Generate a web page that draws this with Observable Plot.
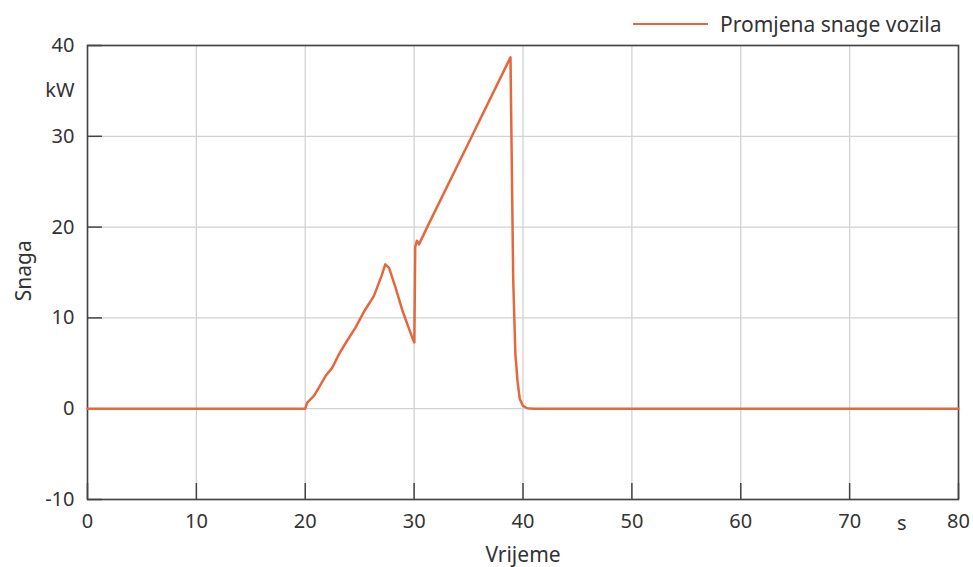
<!DOCTYPE html>
<html>
<head>
<meta charset="utf-8">
<script src="https://cdn.jsdelivr.net/npm/d3@7"></script>
<script src="https://cdn.jsdelivr.net/npm/@observablehq/plot@0.6"></script>
<style>
  html, body { margin: 0; padding: 0; background: #fff; }
  #wrap { position: relative; width: 973px; height: 567px; font-family: "Noto Sans", "Open Sans", sans-serif; }
  #legend { position: absolute; left: 633px; top: 10px; display: flex; align-items: center; color: #333; font-size: 21px; }
  #legend .sw { width: 75px; height: 0; border-top: 2.5px solid #e5683c; margin-right: 12px; }
</style>
</head>
<body>
<div id="wrap">
  <div id="chart"></div>
  <div id="legend"><span class="sw"></span><span id="legendText"></span></div>
</div>
<script>
const seriesName = "Promjena snage vozila";
const xLabel = "Vrijeme";
const yLabel = "Snaga";
const xUnit = "s";
const yUnit = "kW";
const xTicks = [0, 10, 20, 30, 40, 50, 60, 70, 80];
const yTicks = [-10, 0, 10, 20, 30, 40];

const time = [0, 20, 20.18, 20.8, 21.24, 21.86, 22.47, 23.1, 23.8, 24.6, 25.4, 26.3, 27.0, 27.35, 27.7, 28.3, 28.9, 29.5, 29.9, 30.02, 30.1, 30.25, 30.45, 31.2, 35.3, 38.85, 38.95, 39.1, 39.3, 39.5, 39.7, 40.0, 40.4, 41, 80];
const power = [0, 0, 0.66, 1.4, 2.3, 3.6, 4.5, 6.0, 7.4, 8.9, 10.7, 12.4, 14.6, 15.9, 15.5, 13.3, 10.9, 8.9, 7.6, 7.3, 17.8, 18.5, 18.1, 20.0, 30.0, 38.7, 29.0, 14.3, 6.0, 3.0, 1.1, 0.3, 0.05, 0, 0];

const data = time.map((t, i) => ({t, p: power[i]}));
const lineColor = "#e5683c";
const textColor = "#333";

document.getElementById("legendText").textContent = seriesName;

const chart = Plot.plot({
  width: 973,
  height: 567,
  marginLeft: 87,
  marginRight: 15,
  marginTop: 45,
  marginBottom: 68,
  style: {fontFamily: "'Noto Sans', 'Open Sans', sans-serif", fontSize: "20px", color: textColor, background: "#fff"},
  x: {domain: [0, 80], ticks: xTicks},
  y: {domain: [-10, 40], ticks: yTicks},
  marks: [
    Plot.gridX(xTicks, {stroke: "#d2d2d2", strokeOpacity: 1, strokeWidth: 1.3}),
    Plot.gridY(yTicks, {stroke: "#d2d2d2", strokeOpacity: 1, strokeWidth: 1.3}),
    Plot.axisX(xTicks, {tickSize: -16, text: null, stroke: "#444", strokeWidth: 1.5, label: null}),
    Plot.axisY(yTicks, {tickSize: -15, text: null, stroke: "#444", strokeWidth: 1.5, label: null}),
    Plot.axisX(xTicks, {tickSize: 0, tickPadding: 14, fontSize: 20, fill: textColor, label: null, tickFormat: d => String(d)}),
    Plot.axisY(yTicks, {tickSize: 0, tickPadding: 13, fontSize: 20, fill: textColor, label: null, tickFormat: d => String(d)}),
    Plot.frame({stroke: "#444", strokeWidth: 1.6}),
    Plot.line(data, {x: "t", y: "p", stroke: lineColor, strokeWidth: 2.5, strokeLinejoin: "round"}),
    Plot.text([yUnit], {x: 0, y: 35, text: d => d, textAnchor: "end", dx: -13, fontSize: 20, fill: textColor}),
    Plot.text([xUnit], {x: 74.8, y: -10, text: d => d, dy: 24, fontSize: 20, fill: textColor}),
    Plot.text([xLabel], {x: 40, y: -10, text: d => d, dy: 56, fontSize: 21, fill: textColor}),
    Plot.text([yLabel], {x: 0, y: 15.2, text: d => d, rotate: -90, dx: -63, fontSize: 21, fill: textColor})
  ]
});
document.getElementById("chart").appendChild(chart);
</script>
</body>
</html>
